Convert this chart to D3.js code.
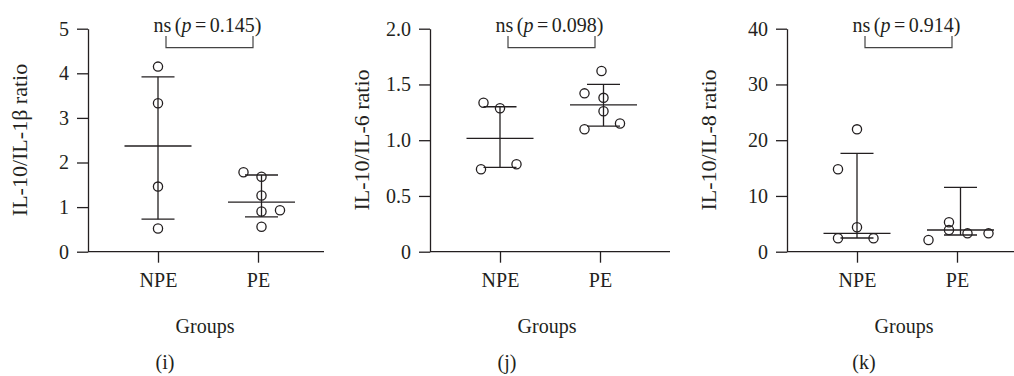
<!DOCTYPE html>
<html>
<head>
<meta charset="utf-8">
<script src="https://d3js.org/d3.v7.min.js"></script>
<style>
  body { margin: 0; background: #fff; }
  text { font-family: "Liberation Serif", "Times New Roman", serif; fill: #231f20; }
  .axis path, .axis line { stroke: #231f20; stroke-width: 1.3; }
  .axis text { font-size: 20px; font-family: "Liberation Serif", serif; fill: #231f20; }
</style>
</head>
<body>
<div id="chart"></div>
<script>
// groups
var groups = ["NPE", "PE"];

// panel (i) IL-10/IL-1b, mean +/- SD
var iNpe = [4.15, 3.33, 1.46, 0.52];
var iNpeJit = [0, 0, 0, 0];
var iPe = [1.78, 1.68, 1.26, 0.90, 0.93, 0.56];
var iPeJit = [-0.18, 0, 0, 0, 0.185, 0];
var iCenter = [2.37, 1.11];
var iLow = [0.73, 0.78];
var iHigh = [3.92, 1.72];
var iTicks = [0, 1, 2, 3, 4, 5];

// panel (j) IL-10/IL-6, mean +/- SD
var jNpe = [1.336, 1.286, 0.739, 0.784];
var jNpeJit = [-0.165, 0, -0.19, 0.165];
var jPe = [1.62, 1.42, 1.38, 1.26, 1.098, 1.15];
var jPeJit = [-0.02, -0.19, 0, 0, -0.19, 0.165];
var jCenter = [1.017, 1.316];
var jLow = [0.757, 1.127];
var jHigh = [1.30, 1.50];
var jTicks = [0, 0.5, 1.0, 1.5, 2.0];

// panel (k) IL-10/IL-8, median with IQR
var kNpe = [21.95, 14.8, 4.38, 2.4, 2.4];
var kNpeJit = [0, -0.19, 0, -0.19, 0.165];
var kPe = [2.1, 5.27, 3.89, 3.29, 3.29];
var kPeJit = [-0.32, -0.115, -0.115, 0.07, 0.28];
var kCenter = [3.29, 3.89];
var kLow = [2.46, 3.0];
var kHigh = [17.65, 11.55];
var kTicks = [0, 10, 20, 30, 40];

var width = 1014, height = 376;
var svg = d3.select("#chart").append("svg")
    .attr("width", width).attr("height", height);

var panels = [
  {left: 88, xLen: 236, yMax: 5, ticks: iTicks, fmt: d3.format("d"), npe: iNpe, npeJit: iNpeJit, pe: iPe, peJit: iPeJit,
   center: iCenter, low: iLow, high: iHigh, label: "IL-10/IL-1\u03b2 ratio", labelOff: 61, p: "0.145", cap: "(i)"},
  {left: 430, xLen: 240, yMax: 2, ticks: jTicks, fmt: function(d) { return d === 0 ? "0" : d3.format(".1f")(d); }, npe: jNpe, npeJit: jNpeJit, pe: jPe, peJit: jPeJit,
   center: jCenter, low: jLow, high: jHigh, label: "IL-10/IL-6 ratio", labelOff: 61, p: "0.098", cap: "(j)"},
  {left: 787, xLen: 240, yMax: 40, ticks: kTicks, fmt: d3.format("d"), npe: kNpe, npeJit: kNpeJit, pe: kPe, peJit: kPeJit,
   center: kCenter, low: kLow, high: kHigh, label: "IL-10/IL-8 ratio", labelOff: 71, p: "0.914", cap: "(k)"}
];

var top0 = 28.7, bottom0 = 251.7;
var groupShift = [0, 0.035];
var ink = "#231f20";

panels.forEach(function(pn) {
  var g = svg.append("g").attr("transform", "translate(" + pn.left + ",0)");

  var x = d3.scalePoint().domain(groups).range([70, 170]);
  var step = 100;
  var y = d3.scaleLinear().domain([0, pn.yMax]).range([bottom0, top0]);

  // y axis
  g.append("g").attr("class", "axis")
    .call(d3.axisLeft(y).tickValues(pn.ticks).tickFormat(pn.fmt).tickSize(11).tickSizeOuter(0).tickPadding(8));

  // x axis
  var xa = g.append("g").attr("class", "axis")
    .attr("transform", "translate(0," + bottom0 + ")")
    .call(d3.axisBottom(x).tickSize(11).tickSizeOuter(0).tickPadding(10));
  xa.select(".domain").remove();
  xa.append("line").attr("x1", 0).attr("x2", pn.xLen).attr("y1", 0).attr("y2", 0)
    .attr("stroke", ink).attr("stroke-width", 1.3);

  // summary lines
  groups.forEach(function(gr, i) {
    var cx = x(gr) + groupShift[i] * step;
    g.append("line").attr("x1", cx).attr("x2", cx)
      .attr("y1", y(pn.low[i])).attr("y2", y(pn.high[i]))
      .attr("stroke", ink).attr("stroke-width", 1.3);
    [pn.low[i], pn.high[i]].forEach(function(v) {
      g.append("line").attr("x1", cx - 0.165 * step).attr("x2", cx + 0.165 * step)
        .attr("y1", y(v)).attr("y2", y(v))
        .attr("stroke", ink).attr("stroke-width", 1.3);
    });
    g.append("line").attr("x1", cx - 0.335 * step).attr("x2", cx + 0.335 * step)
      .attr("y1", y(pn.center[i])).attr("y2", y(pn.center[i]))
      .attr("stroke", ink).attr("stroke-width", 1.3);
  });

  // points
  var pts = [];
  pn.npe.forEach(function(v, k) { pts.push({g: 0, v: v, j: pn.npeJit[k]}); });
  pn.pe.forEach(function(v, k) { pts.push({g: 1, v: v, j: pn.peJit[k]}); });
  g.selectAll("circle").data(pts).enter().append("circle")
    .attr("cx", function(d) { return x(groups[d.g]) + (groupShift[d.g] + d.j) * step; })
    .attr("cy", function(d) { return y(d.v); })
    .attr("r", 4.6)
    .attr("fill", "none")
    .attr("stroke", ink)
    .attr("stroke-width", 1.3);

  // significance bracket
  var bx1 = x("NPE") + 8, bx2 = x("PE") - 5;
  g.append("path")
    .attr("d", "M" + bx1 + ",36V47.7H" + bx2 + "V36")
    .attr("fill", "none").attr("stroke", "#444").attr("stroke-width", 1.2);
  var t = g.append("text").attr("x", (bx1 + bx2) / 2 - 2).attr("y", 31.5)
    .attr("text-anchor", "middle").attr("font-size", 20)
    .attr("word-spacing", "-1.5px");
  t.append("tspan").text("ns (");
  t.append("tspan").attr("font-style", "italic").text("p");
  t.append("tspan").text(" = " + pn.p + ")");

  // y label
  g.append("text")
    .attr("transform", "translate(" + (-pn.labelOff) + ",140) rotate(-90)")
    .attr("text-anchor", "middle").attr("font-size", 22)
    .text(pn.label);

  // x label
  g.append("text").attr("x", (x("NPE") + x("PE")) / 2 - 3).attr("y", 332.5)
    .attr("text-anchor", "middle").attr("font-size", 20).text("Groups");

  // caption
  g.append("text").attr("x", 77).attr("y", 369)
    .attr("text-anchor", "middle").attr("font-size", 20).text(pn.cap);
});
</script>
</body>
</html>
